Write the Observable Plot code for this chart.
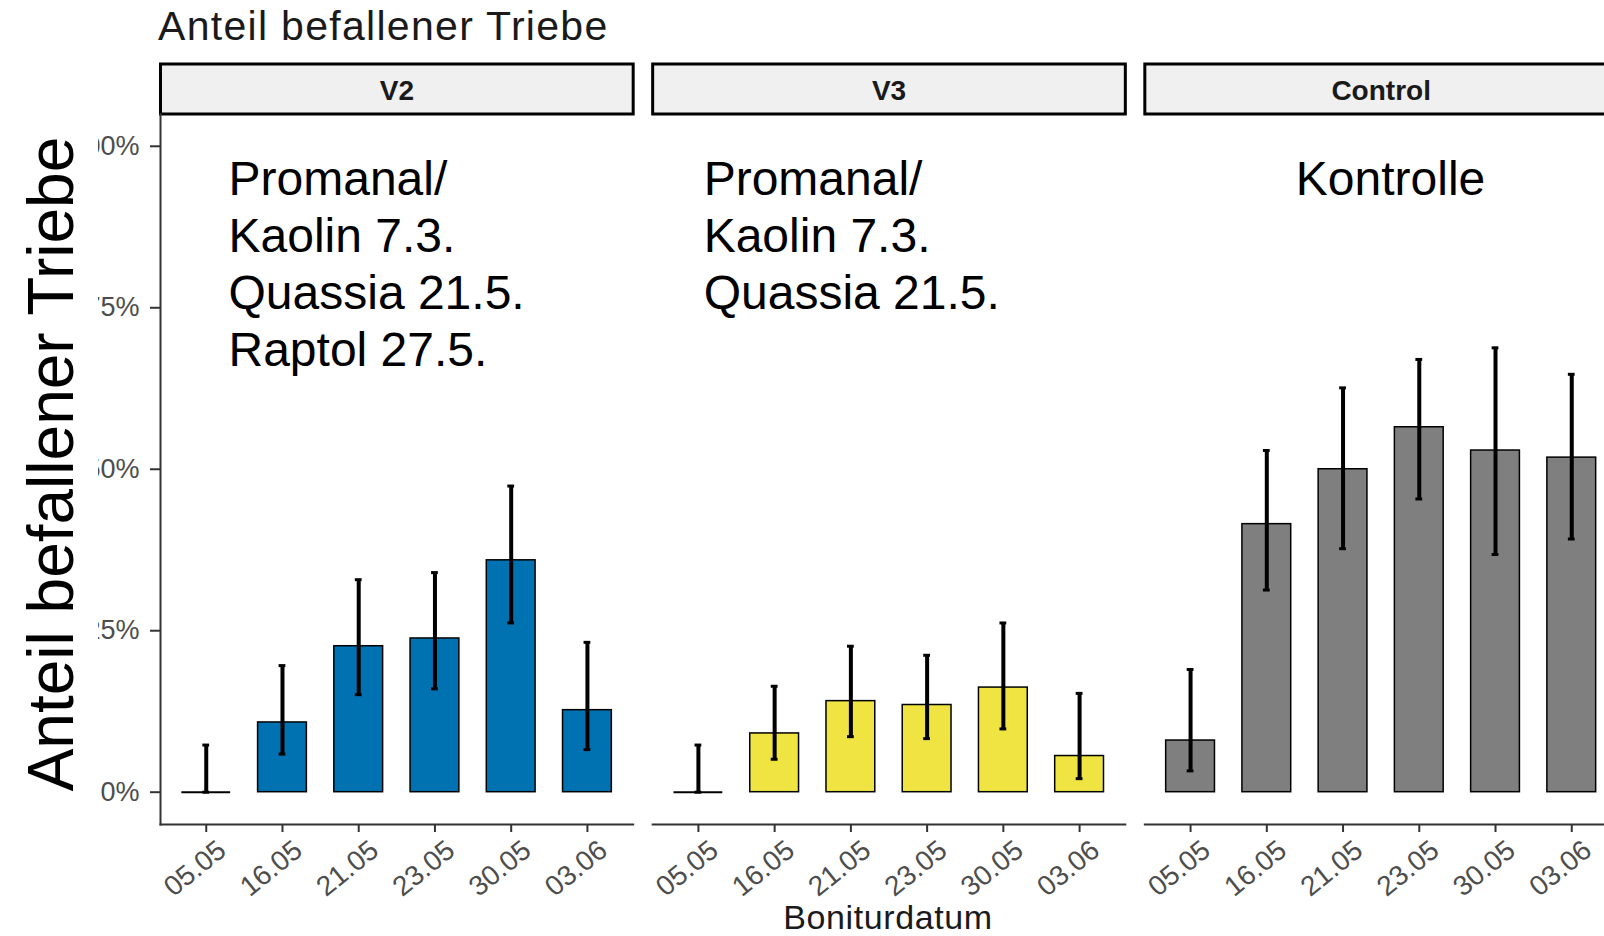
<!DOCTYPE html>
<html><head><meta charset="utf-8">
<script src="https://cdn.jsdelivr.net/npm/d3@7"></script>
<script src="https://cdn.jsdelivr.net/npm/@observablehq/plot@0.6"></script>
<style>
html,body{margin:0;padding:0;background:#fff;overflow:hidden;width:1604px;height:936px;}
#wrap{position:relative;width:1604px;height:936px;overflow:hidden;font-family:"Liberation Sans",Arial,sans-serif;}
#title{height:50px;padding-left:158px;padding-top:3px;box-sizing:border-box;font-size:41px;line-height:47px;letter-spacing:1.3px;color:#1a1a1a;white-space:nowrap;}
#chart{height:848px;width:1617px;}
#chart svg{display:block;overflow:visible;}
#caption{height:38px;width:1456px;padding-left:160px;text-align:center;font-size:34px;line-height:38px;letter-spacing:0.6px;color:#1a1a1a;box-sizing:content-box;}
#ylab{position:absolute;left:0;top:112px;}
</style>
</head><body>
<div id="wrap">
  <div id="title">Anteil befallener Triebe</div>
  <div id="chart"></div>
  <div id="caption">Boniturdatum</div>
  <svg id="ylab" width="98" height="690"><rect width="98" height="690" fill="#fff"/><text transform="translate(73,352) rotate(-90)" text-anchor="middle" font-family="Liberation Sans, Arial, sans-serif" font-size="64" fill="#000">Anteil befallener Triebe</text></svg>
</div>
<script>
const dates = ["05.05", "16.05", "21.05", "23.05", "30.05", "03.06"];
const panels = ["V2", "V3", "Control"];
const panelColors = ["#0072B2", "#F0E442", "#7F7F7F"];

const v2Mean = [0, 0.108, 0.226, 0.238, 0.359, 0.127];
const v2Low  = [0, 0.059, 0.151, 0.160, 0.262, 0.066];
const v2High = [0.073, 0.196, 0.329, 0.340, 0.474, 0.232];

const v3Mean = [0, 0.091, 0.141, 0.135, 0.162, 0.056];
const v3Low  = [0, 0.051, 0.086, 0.083, 0.098, 0.021];
const v3High = [0.073, 0.164, 0.226, 0.212, 0.262, 0.153];

const ctlMean = [0.080, 0.415, 0.500, 0.565, 0.529, 0.518];
const ctlLow  = [0.033, 0.313, 0.377, 0.454, 0.368, 0.392];
const ctlHigh = [0.190, 0.529, 0.626, 0.670, 0.688, 0.647];

const yTicks = [0, 0.25, 0.5, 0.75, 1];

const noteV2 = "Promanal/\nKaolin 7.3.\nQuassia 21.5.\nRaptol 27.5.";
const noteV3 = "Promanal/\nKaolin 7.3.\nQuassia 21.5.";
const noteCtl = "Kontrolle";

const series = {V2: [v2Mean, v2Low, v2High], V3: [v3Mean, v3Low, v3High], Control: [ctlMean, ctlLow, ctlHigh]};
const rows = panels.flatMap(p => dates.map((d, i) => ({
  panel: p, date: d, value: series[p][0][i], lo: series[p][1][i], hi: series[p][2][i]
})));

const tickColor = "#333333";
const labelColor = "#4D4D4D";
const noteStyle = {frameAnchor: "top-left", textAnchor: "start", lineAnchor: "top", fontSize: 48, lineHeight: 1.19, fill: "#000", text: "text", fx: "panel"};

const chart = Plot.plot({
  width: 1617, height: 848,
  marginTop: 63.5, marginBottom: 74, marginLeft: 160, marginRight: 0,
  style: {fontFamily: "Liberation Sans, Arial, sans-serif", background: "transparent", overflow: "visible"},
  fx: {domain: panels, axis: null, paddingInner: 0.0396, paddingOuter: 0, round: false, label: null},
  x: {domain: dates, paddingInner: 0.36, paddingOuter: 0.28, round: false, label: null, axis: null},
  y: {domain: [-0.05, 1.05], label: null, axis: null},
  color: {domain: panels, range: panelColors},
  marks: [
    Plot.frame({fill: "#F0F0F0", stroke: "#000", strokeWidth: 3, insetTop: -50, insetBottom: 710.5}),
    Plot.text(panels, {fx: d => d, text: d => d, frameAnchor: "top", lineAnchor: "middle", dy: -23, fontSize: 28, fontWeight: "bold", fill: "#1a1a1a"}),
    Plot.frame({anchor: "bottom", stroke: tickColor, strokeWidth: 2}),
    Plot.frame({anchor: "left", facetAnchor: "left", stroke: tickColor, strokeWidth: 2}),
    Plot.axisY({ticks: yTicks, tickFormat: d3.format(".0%"), tickSize: 10, tickPadding: 11, fontSize: 27, fill: labelColor, stroke: tickColor, strokeWidth: 2, label: null}),
    Plot.axisX({tickSize: 8, tickFormat: () => "", stroke: tickColor, strokeWidth: 2, label: null}),
    Plot.axisX({tickSize: 0, tickPadding: 22, tickRotate: -39, dx: 16, fontSize: 28, fill: labelColor, label: null}),
    Plot.barY(rows, {fx: "panel", x: "date", y: "value", fill: "panel", stroke: "#000", strokeWidth: 1.5}),
    Plot.tickY(rows, {filter: d => d.value === 0, fx: "panel", x: "date", y: "value", stroke: "#000", strokeWidth: 2}),
    Plot.ruleX(rows, {fx: "panel", x: "date", y1: "lo", y2: "hi", stroke: "#000", strokeWidth: 4}),
    Plot.tickY(rows, {fx: "panel", x: "date", y: "hi", insetLeft: 21, insetRight: 21, stroke: "#000", strokeWidth: 3}),
    Plot.tickY(rows, {fx: "panel", x: "date", y: "lo", insetLeft: 21, insetRight: 21, stroke: "#000", strokeWidth: 3}),
    Plot.text([{panel: "V2", text: noteV2}], {...noteStyle, dx: 68, dy: 40}),
    Plot.text([{panel: "V3", text: noteV3}], {...noteStyle, dx: 51, dy: 40}),
    Plot.text([{panel: "Control", text: noteCtl}], {...noteStyle, dx: 151, dy: 40})
  ]
});
document.getElementById("chart").appendChild(chart);
</script>
</body></html>
